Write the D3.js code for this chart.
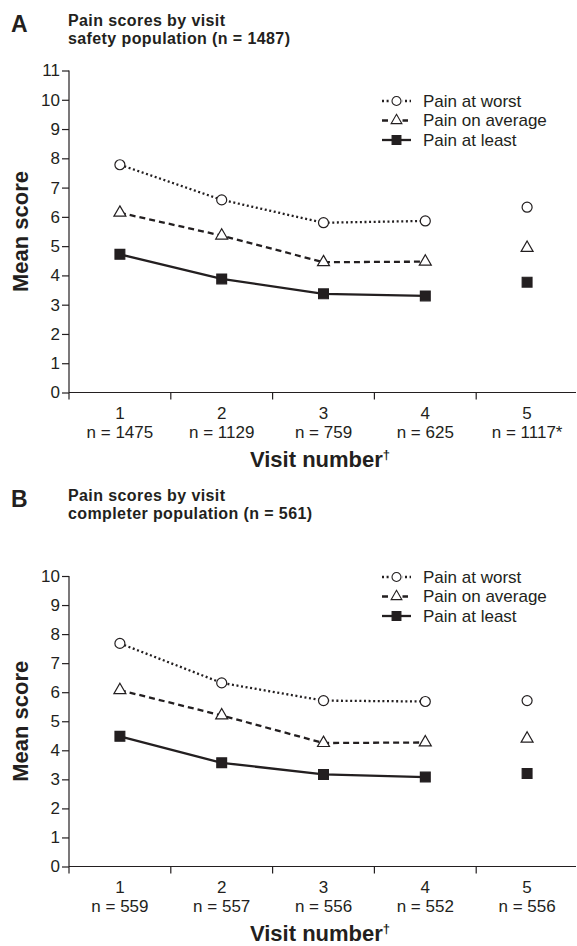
<!DOCTYPE html>
<html>
<head>
<meta charset="utf-8">
<script src="https://cdn.jsdelivr.net/npm/d3@7"></script>
<style>
  body { margin: 0; background: #fff; }
  svg { display: block; font-family: "Liberation Sans", Arial, sans-serif; }
  .axis text { font-size: 17px; fill: #231f20; }
  .axis path, .axis line { stroke: #231f20; stroke-width: 1.2; }
</style>
</head>
<body>
<svg id="chart" width="577" height="946"></svg>
<script>
// visits and sample sizes
const visits = ["1", "2", "3", "4", "5"];
const linkedVisits = ["1", "2", "3", "4"]; // visit 5 is plotted on its own
const nLabelsA = ["n = 1475", "n = 1129", "n = 759", "n = 625", "n = 1117*"];
const nLabelsB = ["n = 559", "n = 557", "n = 556", "n = 552", "n = 556"];

const seriesNames = ["Pain at worst", "Pain on average", "Pain at least"];

// panel A: safety population
const worstA = [7.78, 6.58, 5.8, 5.86, 6.33];
const averageA = [6.14, 5.36, 4.45, 4.47, 4.94];
const leastA = [4.72, 3.88, 3.37, 3.3, 3.77];

// panel B: completer population
const worstB = [7.68, 6.32, 5.71, 5.68, 5.71];
const averageB = [6.07, 5.2, 4.25, 4.27, 4.4];
const leastB = [4.48, 3.57, 3.17, 3.08, 3.2];

const yTicksA = [0, 1, 2, 3, 4, 5, 6, 7, 8, 9, 10, 11];
const yTicksB = [0, 1, 2, 3, 4, 5, 6, 7, 8, 9, 10];

const ink = "#231f20";

const styles = {
  "Pain at worst": { dash: "2,2.6", symbol: "circle", fill: "#fff" },
  "Pain on average": { dash: "6,4", symbol: "triangle", fill: "#fff" },
  "Pain at least": { dash: null, symbol: "square", fill: ink },
};

const svg = d3.select("#chart");

function marker(sel, type, scale = 1) {
  if (type === "circle") {
    sel.append("circle").attr("r", 5 * scale);
  } else if (type === "triangle") {
    sel.append("path").attr("d", d3.symbol(d3.symbolTriangle, 62 * scale * scale)());
  } else {
    sel.append("path").attr("d", d3.symbol(d3.symbolSquare, 96 * scale * scale)());
  }
}

function drawPanel({ letter, title, top, yMax, yTicks, yRange, nLabels, series, legendY }) {
  const g = svg.append("g");

  const x = d3.scaleBand().domain(visits).range([69, 578]);
  const y = d3.scaleLinear().domain([0, yMax]).range(yRange);

  // letter + title
  g.append("text")
    .attr("x", 11).attr("y", top + 15)
    .attr("font-size", 23).attr("font-weight", "bold").attr("fill", ink)
    .text(letter);
  g.selectAll(".title-line")
    .data(title)
    .join("text")
    .attr("class", "title-line")
    .attr("x", 68)
    .attr("y", (d, i) => top + 9 + i * 18)
    .attr("font-size", 16).attr("font-weight", "bold")
    .attr("letter-spacing", 0.4).attr("fill", ink)
    .text((d) => d);

  // y axis
  g.append("g")
    .attr("class", "axis")
    .attr("transform", "translate(69,0)")
    .call(d3.axisLeft(y).tickValues(yTicks).tickSize(7).tickPadding(2).tickSizeOuter(0))
    .call((a) => a.select(".domain").attr("d", `M0,${y(yMax)}V${y(0)}`));

  // x axis: ticks at band boundaries, two-line labels at band centres
  const xAxis = g.append("g")
    .attr("class", "axis")
    .attr("transform", `translate(0,${y(0)})`);
  xAxis.append("path")
    .attr("d", `M69,0H576`)
    .attr("fill", "none");
  xAxis.selectAll(".xtick")
    .data(visits)
    .join("line")
    .attr("class", "xtick")
    .attr("x1", (d) => x(d)).attr("x2", (d) => x(d))
    .attr("y1", 0).attr("y2", 7);
  xAxis.selectAll(".xlab")
    .data(visits)
    .join("text")
    .attr("class", "xlab")
    .attr("text-anchor", "middle")
    .attr("x", (d) => x(d) + x.bandwidth() / 2)
    .attr("y", 26)
    .text((d) => d);
  xAxis.selectAll(".nlab")
    .data(nLabels)
    .join("text")
    .attr("class", "nlab")
    .attr("text-anchor", "middle")
    .attr("x", (d, i) => x(visits[i]) + x.bandwidth() / 2)
    .attr("y", 45)
    .text((d) => d);

  // axis titles
  const xt = g.append("text")
    .attr("x", 320).attr("y", y(0) + 74)
    .attr("text-anchor", "middle")
    .attr("font-size", 22).attr("font-weight", "bold").attr("fill", ink)
    .text("Visit number");
  xt.append("tspan").attr("font-size", 13).attr("dy", -8).text("\u2020");

  g.append("text")
    .attr("transform", `translate(28,${(y(0) + y(yMax)) / 2}) rotate(-90)`)
    .attr("text-anchor", "middle")
    .attr("font-size", 22).attr("font-weight", "bold").attr("fill", ink)
    .text("Mean score");

  // lines + markers
  const cx = (v) => x(v) + x.bandwidth() / 2;
  const line = d3.line().x((d) => cx(d.visit)).y((d) => y(d.value));

  series.forEach((values, si) => {
    const name = seriesNames[si];
    const st = styles[name];
    const pts = values.map((value, i) => ({ visit: visits[i], value }));
    g.append("path")
      .datum(pts.filter((d) => linkedVisits.includes(d.visit)))
      .attr("fill", "none")
      .attr("stroke", ink)
      .attr("stroke-width", 2.3)
      .attr("stroke-dasharray", st.dash)
      .attr("d", line);
    g.selectAll(`.pt-${si}`)
      .data(pts)
      .join("g")
      .attr("class", `pt-${si}`)
      .attr("transform", (d) => `translate(${cx(d.visit)},${y(d.value)})`)
      .each(function () {
        marker(d3.select(this), st.symbol);
      })
      .selectAll("circle,path")
      .attr("fill", st.fill)
      .attr("stroke", ink)
      .attr("stroke-width", 1.2);
  });

  // legend
  const legend = g.append("g").attr("transform", `translate(382,${legendY})`);
  seriesNames.forEach((name, i) => {
    const st = styles[name];
    const row = legend.append("g").attr("transform", `translate(0,${i * 19.5})`);
    row.append("line")
      .attr("x1", 0).attr("x2", 29)
      .attr("stroke", ink).attr("stroke-width", 2.3)
      .attr("stroke-dasharray", st.dash);
    const m = row.append("g").attr("transform", "translate(14.5,0)");
    m.append("rect").attr("x", -6).attr("y", -6).attr("width", 12).attr("height", 12)
      .attr("fill", st.symbol === "square" ? "none" : "#fff");
    marker(m, st.symbol, 0.9);
    m.selectAll("circle,path")
      .attr("fill", st.fill).attr("stroke", ink).attr("stroke-width", 1.1);
    row.append("text")
      .attr("x", 41).attr("dy", "0.35em")
      .attr("font-size", 17).attr("fill", ink)
      .text(name);
  });
}

drawPanel({
  letter: "A",
  title: ["Pain scores by visit", "safety population (n = 1487)"],
  top: 17,
  yMax: 11,
  yTicks: yTicksA,
  yRange: [392.5, 70.5],
  nLabels: nLabelsA,
  series: [worstA, averageA, leastA],
  legendY: 101,
});

drawPanel({
  letter: "B",
  title: ["Pain scores by visit", "completer population (n = 561)"],
  top: 492,
  yMax: 10,
  yTicks: yTicksB,
  yRange: [866.5, 576],
  nLabels: nLabelsB,
  series: [worstB, averageB, leastB],
  legendY: 577,
});
</script>
</body>
</html>
